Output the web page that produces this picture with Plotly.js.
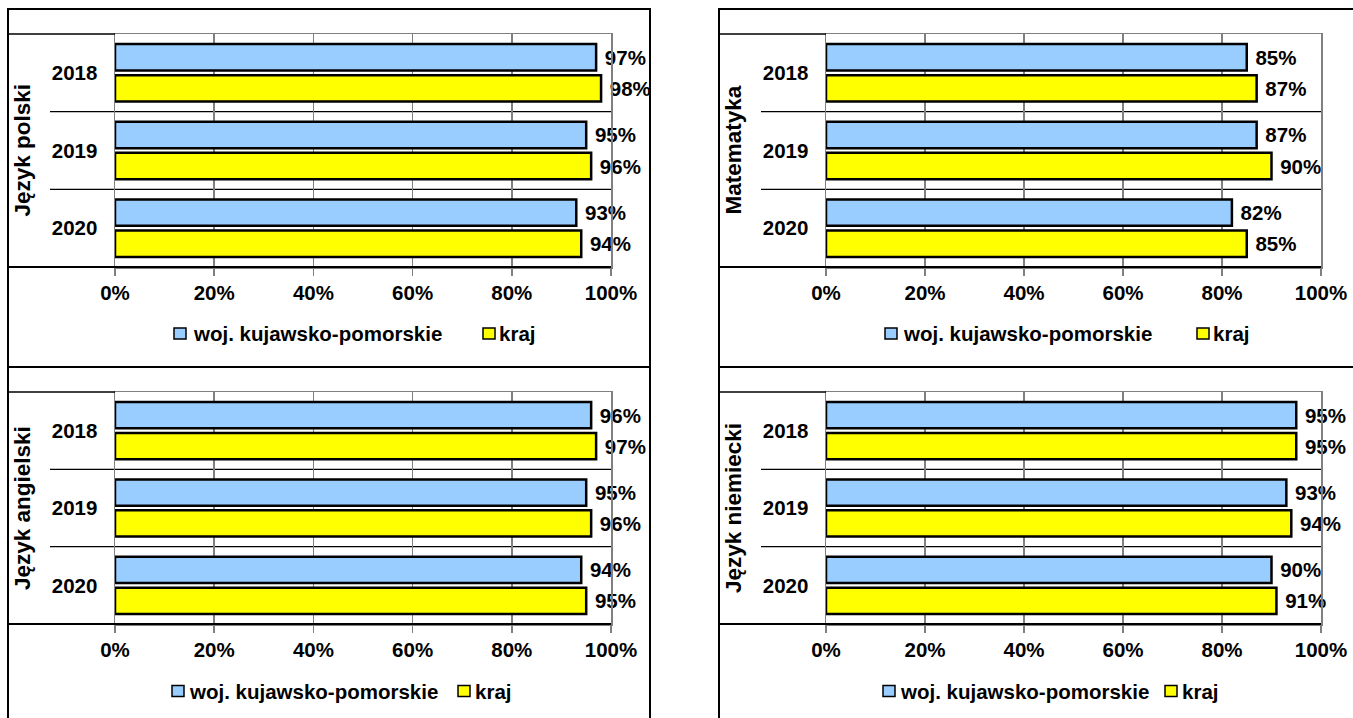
<!DOCTYPE html>
<html>
<head>
<meta charset="utf-8">
<script src="https://cdn.plot.ly/plotly-3.0.1.min.js"></script>
<style>
html,body{margin:0;padding:0;background:#fff;}
#chart{width:1353px;height:718px;}
</style>
</head>
<body>
<div id="chart"></div>
<script>
// ---------- data ----------
const years = ['2018', '2019', '2020'];
const subjects = ['Język polski', 'Matematyka', 'Język angielski', 'Język niemiecki'];
const seriesNames = ['woj. kujawsko-pomorskie', 'kraj'];
const tickVals = [0, 20, 40, 60, 80, 100];
const tickLabels = ['0%', '20%', '40%', '60%', '80%', '100%'];

const wojPolski = [97, 95, 93];
const krajPolski = [98, 96, 94];
const wojMatematyka = [85, 87, 82];
const krajMatematyka = [87, 90, 85];
const wojAngielski = [96, 95, 94];
const krajAngielski = [97, 96, 95];
const wojNiemiecki = [95, 93, 90];
const krajNiemiecki = [95, 94, 91];

const seriesBySubject = [
  [wojPolski, krajPolski],
  [wojMatematyka, krajMatematyka],
  [wojAngielski, krajAngielski],
  [wojNiemiecki, krajNiemiecki]
];
const seriesColors = ['#99CCFF', '#FFFF00'];

// ---------- layout geometry (pixels in 1353x718 page) ----------
const W = 1353, H = 718;
const fx = x => x / W;
const fy = y => 1 - y / H;
const FONT = 'Liberation Sans, Arial, sans-serif';
const FS = 20.5;

const panels = [
  {L:115, R:611, T:34, B:267, boxL:8, boxR:650, boxT:9, boxB:367, sepL:50, titleX:22, legY:333.5, leg:[174,191,483,497]},
  {L:826, R:1321, T:34, B:267, boxL:719, boxR:1362, boxT:9, boxB:367, sepL:761, titleX:733, legY:333.5, leg:[885,901,1197,1211]},
  {L:115, R:611, T:392, B:624, boxL:8, boxR:650, boxT:367, boxB:730, sepL:50, titleX:22, legY:691, leg:[172,187,458,473]},
  {L:826, R:1321, T:392, B:624, boxL:719, boxR:1362, boxT:367, boxB:730, sepL:761, titleX:733, legY:691, leg:[883,898,1165,1180]}
];

const traces = [];
const layout = {
  width: W, height: H,
  margin: {l:0, r:0, t:0, b:0},
  paper_bgcolor: '#ffffff',
  plot_bgcolor: '#ffffff',
  showlegend: false,
  barmode: 'group',
  bargap: 0.2,
  bargroupgap: 0.15,
  font: {family: FONT, size: FS, color: '#000', weight: 'bold'},
  shapes: [],
  annotations: []
};

panels.forEach((p, i) => {
  const n = i + 1;
  const xa = 'x' + (n === 1 ? '' : n);
  const ya = 'y' + (n === 1 ? '' : n);
  const xk = 'xaxis' + (n === 1 ? '' : n);
  const yk = 'yaxis' + (n === 1 ? '' : n);

  seriesBySubject[i].forEach((vals, s) => {
    traces.push({
      type: 'bar',
      orientation: 'h',
      name: seriesNames[s],
      x: vals,
      y: years,
      xaxis: xa, yaxis: ya,
      marker: {color: seriesColors[s], line: {color: '#000', width: 2.5}},
      text: vals.map(v => '\u00a0' + v + '%'),
      textposition: 'outside',
      textfont: {family: FONT, size: FS, color: '#000', weight: 'bold'},
      constraintext: 'none',
      cliponaxis: false,
      hoverinfo: 'skip'
    });
  });

  layout[xk] = {
    domain: [fx(p.L), fx(p.R)],
    anchor: ya,
    range: [0, 100],
    tickvals: tickVals,
    ticktext: tickLabels,
    ticks: 'outside', ticklen: 7, tickwidth: 1.5, tickcolor: '#808080',
    showgrid: true, gridcolor: '#808080', gridwidth: 1.5,
    showline: true, linecolor: '#808080', linewidth: 1.5, mirror: true,
    zeroline: false,
    tickfont: {family: FONT, size: FS, color: '#000', weight: 'bold'},
    fixedrange: true
  };
  layout[yk] = {
    domain: [fy(p.B), fy(p.T)],
    anchor: xa,
    type: 'category',
    categoryorder: 'array', categoryarray: years,
    range: [2.5, -0.5],
    ticks: '',
    ticklabelstandoff: 12,
    showgrid: false,
    showline: true, linecolor: '#808080', linewidth: 1.5, mirror: true,
    zeroline: false,
    tickfont: {family: FONT, size: FS, color: '#000', weight: 'bold'},
    fixedrange: true
  };

  // panel border
  layout.shapes.push({type:'rect', xref:'paper', yref:'paper',
    x0: fx(p.boxL), x1: fx(p.boxR), y0: fy(p.boxB), y1: fy(p.boxT),
    line:{color:'#000', width:2}, fillcolor:'rgba(0,0,0,0)', layer:'below'});
  // outer category box lines
  layout.shapes.push({type:'line', xref:'paper', yref:'paper',
    x0: fx(p.boxL), x1: fx(p.L), y0: fy(p.T), y1: fy(p.T), line:{color:'#000', width:1.5}});
  layout.shapes.push({type:'line', xref:'paper', yref:'paper',
    x0: fx(p.boxL), x1: fx(p.R), y0: fy(p.B), y1: fy(p.B), line:{color:'#000', width:2}});
  // separators between years
  [0.5, 1.5].forEach(v => {
    layout.shapes.push({type:'line', xref:'paper', yref: ya,
      x0: fx(p.sepL), x1: fx(p.R), y0: v, y1: v, line:{color:'#000', width:1.2}, layer:'below'});
  });
  // subject title (outer category level)
  layout.annotations.push({xref:'paper', yref:'paper', x: fx(p.titleX), y: fy((p.T + p.B) / 2),
    text: subjects[i], textangle: -90, showarrow: false, xanchor:'center', yanchor:'middle',
    font:{family: FONT, size: 22.5, color:'#000', weight:'bold'}});
  // legend
  [0, 1].forEach(s => {
    const sx = p.leg[s * 2], tx = p.leg[s * 2 + 1];
    layout.shapes.push({type:'rect', xref:'paper', yref:'paper',
      x0: fx(sx), x1: fx(sx + 12), y0: fy(p.legY + 5.5), y1: fy(p.legY - 5.5),
      fillcolor: seriesColors[s], line:{color:'#000', width:1.5}});
    layout.annotations.push({xref:'paper', yref:'paper', x: fx(tx), y: fy(p.legY),
      text: seriesNames[s], showarrow:false, xanchor:'left', yanchor:'middle',
      font:{family: FONT, size: FS, color:'#000', weight:'bold'}});
  });
});

Plotly.newPlot('chart', traces, layout, {staticPlot: true, displayModeBar: false});
</script>
</body>
</html>
